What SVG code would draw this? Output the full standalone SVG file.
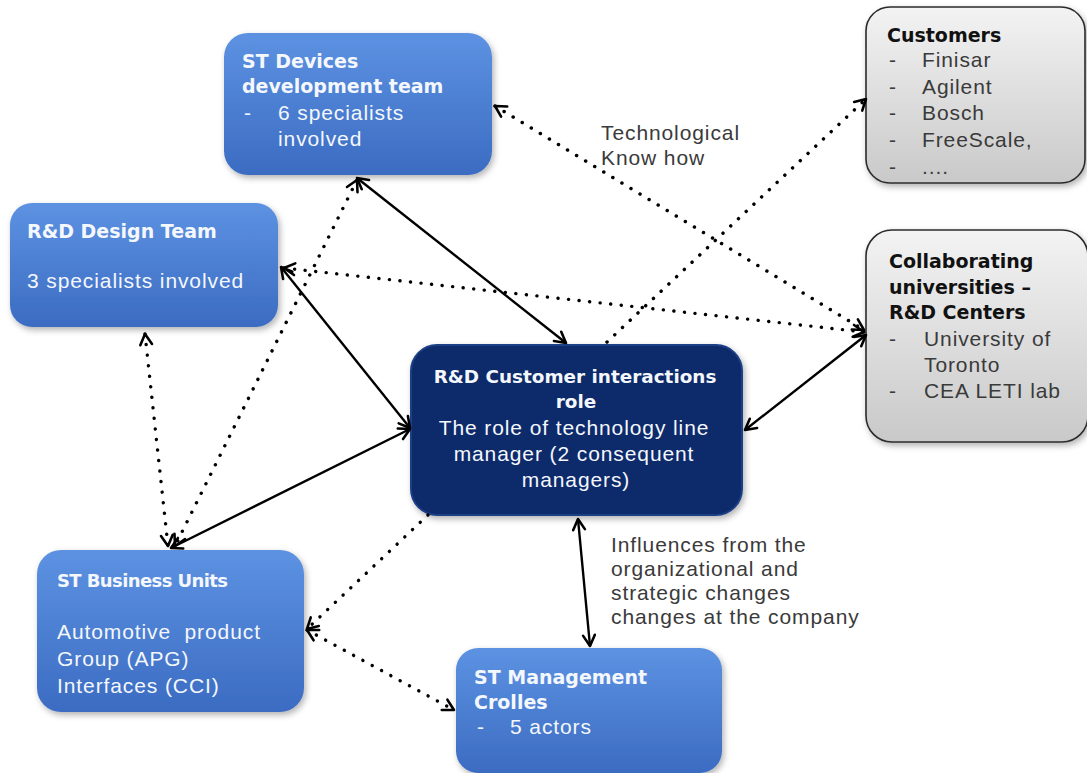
<svg xmlns="http://www.w3.org/2000/svg" width="1087" height="773" viewBox="0 0 1087 773">
<defs>
<linearGradient id="blue" x1="0" y1="0" x2="0" y2="1">
<stop offset="0" stop-color="#5d92e2"/>
<stop offset="1" stop-color="#3b6cc2"/>
</linearGradient>
<linearGradient id="gray" x1="0" y1="0" x2="0" y2="1">
<stop offset="0" stop-color="#f3f3f3"/>
<stop offset="1" stop-color="#c9c9c9"/>
</linearGradient>
<filter id="sh" x="-10%" y="-10%" width="125%" height="130%">
<feDropShadow dx="2" dy="3" stdDeviation="3" flood-color="#000" flood-opacity="0.3"/>
</filter>
<marker id="ah" viewBox="0 0 14 14" refX="12" refY="7" markerWidth="15" markerHeight="15" markerUnits="userSpaceOnUse" orient="auto-start-reverse">
<path d="M2,1.5 L12,7 L2,12.5" fill="none" stroke="#000" stroke-width="2.4" stroke-dasharray="none" stroke-linecap="round" stroke-linejoin="round"/>
</marker>
</defs>
<style>
.bn{fill:url(#blue);filter:url(#sh)}
.gn{fill:url(#gray);stroke:#2b2b2b;stroke-width:1.6;filter:url(#sh)}
.cn{fill:#0d2a6a;stroke:#1f3f86;stroke-width:2;filter:url(#sh)}
.tb{font-family:"DejaVu Sans","Liberation Sans",sans-serif;font-weight:bold;font-size:19px}
.tr{font-family:"Liberation Sans","DejaVu Sans",sans-serif;font-size:21px;letter-spacing:0.9px}
.w{fill:#f4f7fc}
.k{fill:#111}
.g{fill:#3a3a3a}
.solid{fill:none;stroke:#000;stroke-width:2.4;marker-start:url(#ah);marker-end:url(#ah)}
.dot{fill:none;stroke:#000;stroke-width:3.4;stroke-linecap:round;stroke-dasharray:0.1 10.5}
</style>
<rect width="1087" height="773" fill="#fff"/>

<g id="st-devices">
<rect class="bn" x="224" y="33" width="268" height="142" rx="24"/>
<text class="tb w" x="242" y="68">ST Devices</text>
<text class="tb w" x="242" y="93">development team</text>
<text class="tr w" x="244" y="120">-</text>
<text class="tr w" x="278" y="120">6 specialists</text>
<text class="tr w" x="278" y="146">involved</text>
</g>

<g id="rd-design">
<rect class="bn" x="10" y="203" width="268" height="124" rx="22"/>
<text class="tb w" x="27" y="238">R&amp;D Design Team</text>
<text class="tr w" x="27" y="288">3 specialists involved</text>
</g>

<g id="st-business">
<rect class="bn" x="37" y="550" width="267" height="162" rx="24"/>
<text class="tb w" x="57" y="587" style="font-size:18px" textLength="171">ST Business Units</text>
<text class="tr w" x="57" y="639" xml:space="preserve">Automotive  product</text>
<text class="tr w" x="57" y="666">Group (APG)</text>
<text class="tr w" x="57" y="693">Interfaces (CCI)</text>
</g>

<g id="st-management">
<rect class="bn" x="456" y="648" width="266" height="125" rx="22"/>
<text class="tb w" x="474" y="684">ST Management</text>
<text class="tb w" x="474" y="709">Crolles</text>
<text class="tr w" x="477" y="734">-</text>
<text class="tr w" x="510" y="734">5 actors</text>
</g>

<g id="center">
<rect class="cn" x="411" y="345" width="331" height="170" rx="26"/>
<g text-anchor="middle">
<text class="tb w" x="575" y="383" style="font-size:18.4px">R&amp;D Customer interactions</text>
<text class="tb w" x="576" y="408" style="font-size:18.4px">role</text>
<text class="tr w" x="574" y="435">The role of technology line</text>
<text class="tr w" x="574" y="461">manager (2 consequent</text>
<text class="tr w" x="576" y="487">managers)</text>
</g>
</g>

<g id="customers">
<rect class="gn" x="866" y="7" width="219" height="176" rx="24"/>
<text class="tb k" x="887" y="42">Customers</text>
<text class="tr g" x="889" y="67">-</text><text class="tr g" x="922" y="67">Finisar</text>
<text class="tr g" x="889" y="94">-</text><text class="tr g" x="922" y="94">Agilent</text>
<text class="tr g" x="889" y="120">-</text><text class="tr g" x="922" y="120">Bosch</text>
<text class="tr g" x="889" y="147">-</text><text class="tr g" x="922" y="147">FreeScale,</text>
<text class="tr g" x="889" y="174">-</text><text class="tr g" x="922" y="174">....</text>
</g>

<g id="universities">
<rect class="gn" x="866" y="230" width="222" height="212" rx="26"/>
<text class="tb k" x="889" y="268">Collaborating</text>
<text class="tb k" x="889" y="294">universities –</text>
<text class="tb k" x="889" y="319">R&amp;D Centers</text>
<text class="tr g" x="889" y="346">-</text><text class="tr g" x="924" y="346">University of</text>
<text class="tr g" x="924" y="372">Toronto</text>
<text class="tr g" x="889" y="398">-</text><text class="tr g" x="924" y="398">CEA LETI lab</text>
</g>

<g id="labels">
<text class="tr g" x="601" y="140">Technological</text>
<text class="tr g" x="601" y="165">Know how</text>
<text class="tr g" x="611" y="552">Influences from the</text>
<text class="tr g" x="611" y="576">organizational and</text>
<text class="tr g" x="611" y="600">strategic changes</text>
<text class="tr g" x="611" y="624">changes at the company</text>
</g>

<g id="connectors">
<line class="solid" x1="357" y1="178" x2="566" y2="343"/>
<line class="solid" x1="281" y1="267" x2="410" y2="428"/>
<line class="solid" x1="171" y1="548" x2="410" y2="429"/>
<line class="solid" x1="745" y1="430" x2="866" y2="335"/>
<line class="solid" x1="578" y1="519" x2="590" y2="646"/>
<line class="dot" x1="495" y1="106" x2="864" y2="330" marker-start="url(#ah)" marker-end="url(#ah)"/>
<line class="dot" x1="284" y1="268" x2="864" y2="332" marker-start="url(#ah)" marker-end="url(#ah)"/>
<line class="dot" x1="607" y1="342" x2="866" y2="99" marker-end="url(#ah)"/>
<line class="dot" x1="357" y1="180" x2="175" y2="546" marker-start="url(#ah)" marker-end="url(#ah)"/>
<line class="dot" x1="145" y1="334" x2="168" y2="546" marker-start="url(#ah)" marker-end="url(#ah)"/>
<line class="dot" x1="428" y1="515" x2="307" y2="629" marker-end="url(#ah)"/>
<line class="dot" x1="307" y1="630" x2="454" y2="710" marker-start="url(#ah)" marker-end="url(#ah)"/>
</g>
</svg>
